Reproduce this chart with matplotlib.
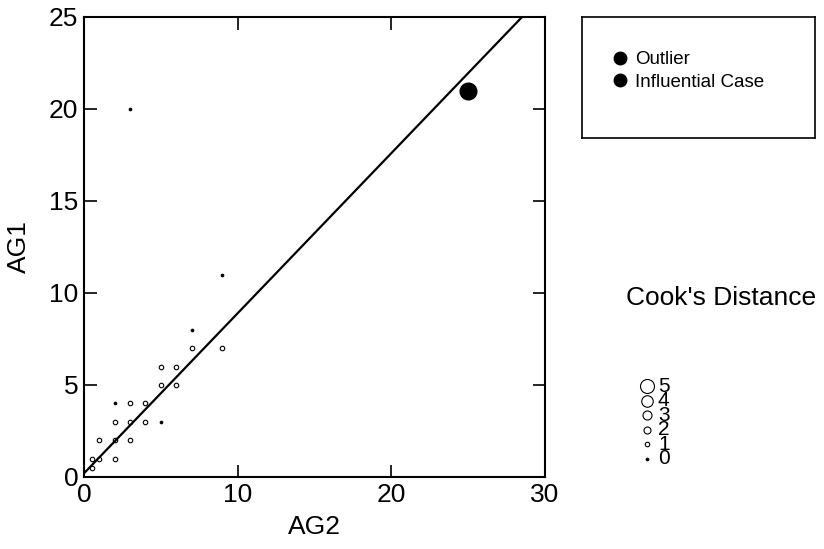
import numpy as np
import matplotlib.pyplot as plt
from matplotlib.lines import Line2D

plt.rcParams['font.family'] = ['Liberation Sans', 'DejaVu Sans']

# AG2 / AG1 pairs and Cook's distance class of each point
ag2 = [0.5, 0.5, 1, 2, 1, 2, 3, 2, 3, 4, 5, 2, 3, 4, 5, 6, 5, 6, 7, 9, 7, 9, 3]
ag1 = [0.5, 1, 1, 1, 2, 2, 2, 3, 3, 3, 3, 4, 4, 4, 5, 5, 6, 6, 7, 7, 8, 11, 20]
cook = [1, 1, 1, 1, 1, 1, 1, 1, 1, 1, 0, 0, 1, 1, 1, 1, 1, 1, 1, 1, 0, 0, 0]

# influential outlier
out_x, out_y = 25, 21

# fitted line
intercept, slope = 0.2, 0.87

cook_levels = [5, 4, 3, 2, 1, 0]
cook_diam = {0: 3.0, 1: 4.5, 2: 7.0, 3: 9.0, 4: 11.5, 5: 14.0}


def cook_marker(c):
    if c == 0:
        return dict(marker='o', markersize=cook_diam[c] * 0.72, markerfacecolor='black',
                    markeredgecolor='black', markeredgewidth=0.5)
    return dict(marker='o', markersize=cook_diam[c] * 0.72, markerfacecolor='white',
                markeredgecolor='black', markeredgewidth=0.8)


fig = plt.figure(figsize=(8.24, 5.49), dpi=100)
W, H = 824, 549
ax = fig.add_axes([84 / W, 1 - 477 / H, (545 - 84) / W, (477 - 17) / H])

for x, y, c in zip(ag2, ag1, cook):
    ax.plot(x, y, linestyle='none', **cook_marker(c))

ax.plot(out_x, out_y, 'o', color='black', markersize=12)

xs = np.array([0, (25 - intercept) / slope])
ax.plot(xs, intercept + slope * xs, color='black', lw=1.6)

ax.set_xlim(0, 30)
ax.set_ylim(0, 25)
ax.set_xticks([0, 10, 20, 30])
ax.set_yticks([0, 5, 10, 15, 20, 25])
ax.tick_params(direction='in', length=9, width=1.2, labelsize=19,
               top=True, right=True, pad=4)
for s in ax.spines.values():
    s.set_linewidth(1.5)
ax.set_xlabel('AG2', fontsize=19, labelpad=6)
ax.set_ylabel('AG1', fontsize=19, labelpad=13)

# outlier legend box
bax = fig.add_axes([582 / W, 1 - 138 / H, (815 - 582) / W, (138 - 17) / H])
bax.set_xticks([])
bax.set_yticks([])
for s in bax.spines.values():
    s.set_linewidth(1.2)
h1 = [Line2D([], [], marker='o', color='black', linestyle='none', markersize=9),
      Line2D([], [], marker='o', color='black', linestyle='none', markersize=9)]
bax.legend(h1, ['Outlier', 'Influential Case'], loc='upper left',
           bbox_to_anchor=(0.09, 0.78), frameon=False, fontsize=13.5,
           handletextpad=0.3, labelspacing=0.3, handlelength=1.0,
           borderaxespad=0)

# Cook's distance legend
fig.text(626 / W, 1 - 298 / H, "Cook's Distance", fontsize=19, va='center', ha='left')
for i, c in enumerate(cook_levels):
    yf = 1 - (386 + i * 14.6) / H
    fig.add_artist(Line2D([647 / W], [yf], transform=fig.transFigure,
                          linestyle='none', **cook_marker(c)))
    fig.text(658 / W, yf, str(c), fontsize=15, va='center', ha='left')

fig.savefig('out.png', dpi=100)
